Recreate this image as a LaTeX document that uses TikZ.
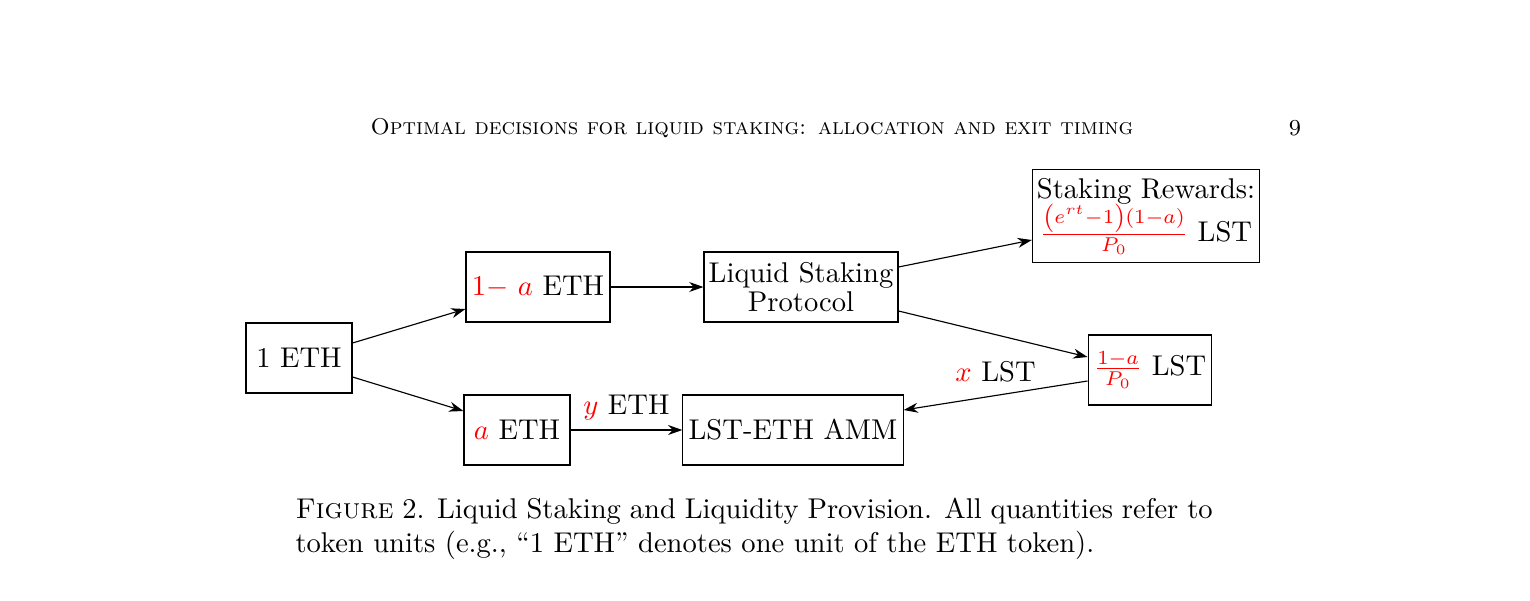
\documentclass[tikz,border=0pt]{standalone}
\usetikzlibrary{arrows.meta}
\begin{document}
\begin{tikzpicture}[x=0.35pt,y=-0.35pt,
 box/.style={draw,line width=0.4pt,minimum height=24.5pt,inner sep=2pt,align=center,font=\normalsize},
 arr/.style={-{Stealth[length=5pt,width=3.5pt]},line width=0.4pt},
 red/.style={text=red}]
\useasboundingbox (0,0) rectangle (1530,600);
\node (hdr) at (752,128) {\footnotesize\textsc{Optimal decisions for liquid staking: allocation and exit timing}};
\node (pg) at (1295,128) {\footnotesize 9};
\node[box,minimum width=37.1pt] (one) at (299,358) {1 ETH};
\node[box,minimum width=50.4pt] (oma) at (538,287) {\textcolor{red}{$1-$ $a$} ETH};
\node[box,minimum width=37.1pt] (a) at (517,430) {\textcolor{red}{$a$} ETH};
\node[box,minimum width=67.9pt,inner sep=1pt] (lsp) at (801,287) {Liquid Staking\\[-2pt]Protocol};
\node[box,minimum width=76pt] (amm) at (793,430) {LST-ETH AMM};
\node[box,minimum width=79.5pt,minimum height=32.5pt,inner sep=1pt] (rew) at (1146,216) {Staking Rewards:\\[-1pt]\textcolor{red}{$\frac{\left(e^{rt}-1\right)(1-a)}{P_0}$} LST};
\node[box,minimum width=43pt] (lst) at (1150,370) {\textcolor{red}{$\frac{1-a}{P_0}$} LST};
\draw[arr] (one.east|-0,343) -- (oma.west|-0,309);
\draw[arr] (one.east|-0,377) -- (a.west|-0,411);
\draw[arr] (oma) -- (lsp);
\draw[arr] (a) -- node[above] {\textcolor{red}{$y$} ETH} (amm);
\draw[arr] (lsp.east|-0,267) -- (rew.west|-0,240);
\draw[arr] (lsp.east|-0,311) -- (lst.west|-0,357);
\draw[arr] (lst.west|-0,381) -- node[above,pos=0.5,yshift=1pt] {\textcolor{red}{$x$} LST} (amm.east|-0,410);
\node[anchor=north west,text width=321pt,align=justify,inner sep=0pt] (cap) at (295,497)
 {\textsc{Figure} 2. Liquid Staking and Liquidity Provision. All quantities refer to token units (e.g., ``1 ETH'' denotes one unit of the ETH token).};
\end{tikzpicture}
\end{document}
